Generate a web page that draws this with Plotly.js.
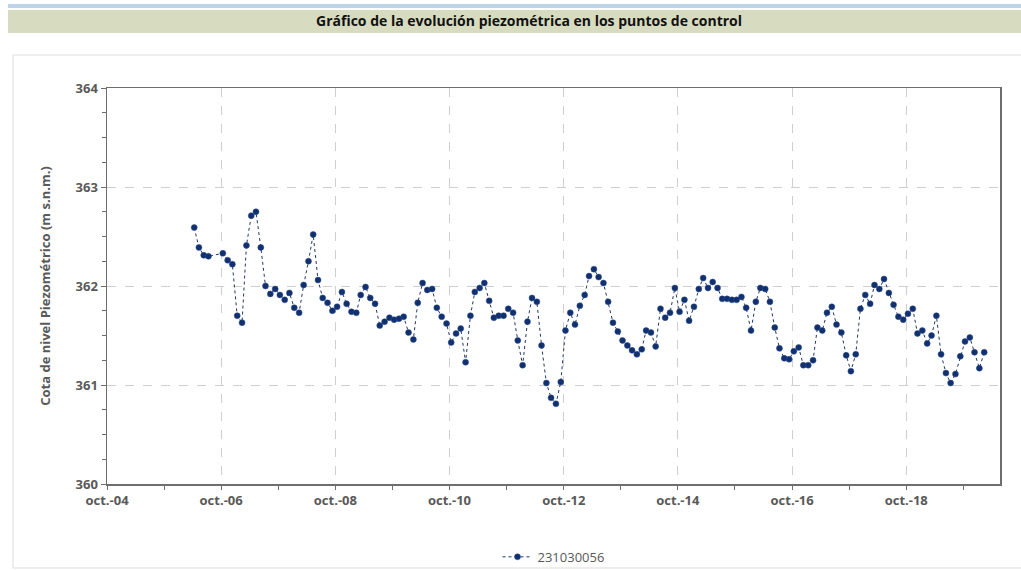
<!DOCTYPE html>
<html>
<head>
<meta charset="utf-8">
<script src="https://cdn.plot.ly/plotly-3.0.1.min.js"></script>
<style>
  html, body { margin: 0; padding: 0; background: #ffffff; overflow: hidden; }
  #chart { width: 1021px; height: 570px; }
</style>
</head>
<body>
<div id="chart"></div>
<script>
// ---- Data ----
const chartTitle = "Gráfico de la evolución piezométrica en los puntos de control";
const yAxisTitle = "Cota de nivel Piezométrico (m s.n.m.)";
const seriesName = "231030056";

const dates = [
  "2006-04-12","2006-05-12","2006-06-12","2006-07-12","2006-10-12","2006-11-12","2006-12-12",
  "2007-01-12","2007-02-12","2007-03-12","2007-04-12","2007-05-12","2007-06-12","2007-07-12","2007-08-12","2007-09-12","2007-10-12","2007-11-12","2007-12-12",
  "2008-01-12","2008-02-12","2008-03-12","2008-04-12","2008-05-12","2008-06-12","2008-07-12","2008-08-12","2008-09-12","2008-10-12","2008-11-12","2008-12-12",
  "2009-01-12","2009-02-12","2009-03-12","2009-04-12","2009-05-12","2009-06-12","2009-07-12","2009-08-12","2009-09-12","2009-10-12","2009-11-12","2009-12-12",
  "2010-01-12","2010-02-12","2010-03-12","2010-04-12","2010-05-12","2010-06-12","2010-07-12","2010-08-12","2010-09-12","2010-10-12","2010-11-12","2010-12-12",
  "2011-01-12","2011-02-12","2011-03-12","2011-04-12","2011-05-12","2011-06-12","2011-07-12","2011-08-12","2011-09-12","2011-10-12","2011-11-12","2011-12-12",
  "2012-01-12","2012-02-12","2012-03-12","2012-04-12","2012-05-12","2012-06-12","2012-07-12","2012-08-12","2012-09-12","2012-10-12","2012-11-12","2012-12-12",
  "2013-01-12","2013-02-12","2013-03-12","2013-04-12","2013-05-12","2013-06-12","2013-07-12","2013-08-12","2013-09-12","2013-10-12","2013-11-12","2013-12-12",
  "2014-01-12","2014-02-12","2014-03-12","2014-04-12","2014-05-12","2014-06-12","2014-07-12","2014-08-12","2014-09-12","2014-10-12","2014-11-12","2014-12-12",
  "2015-01-12","2015-02-12","2015-03-12","2015-04-12","2015-05-12","2015-06-12","2015-07-12","2015-08-12","2015-09-12","2015-10-12","2015-11-12","2015-12-12",
  "2016-01-12","2016-02-12","2016-03-12","2016-04-12","2016-05-12","2016-06-12","2016-07-12","2016-08-12","2016-09-12","2016-10-12","2016-11-12","2016-12-12",
  "2017-01-12","2017-02-12","2017-03-12","2017-04-12","2017-05-12","2017-06-12","2017-07-12","2017-08-12","2017-09-12","2017-10-12","2017-11-12","2017-12-12",
  "2018-01-12","2018-02-12","2018-03-12","2018-04-12","2018-05-12","2018-06-12","2018-07-12","2018-08-12","2018-09-12","2018-10-12","2018-11-12","2018-12-12",
  "2019-01-12","2019-02-12","2019-03-12","2019-04-12","2019-05-12","2019-06-12","2019-07-12","2019-08-12","2019-09-12","2019-10-12","2019-11-12","2019-12-12",
  "2020-01-12","2020-02-12"
];

const levels = [
  362.59,362.39,362.31,362.30,362.33,362.26,362.22,
  361.70,361.63,362.41,362.71,362.75,362.39,362.00,361.92,361.97,361.91,361.86,361.93,
  361.78,361.73,362.01,362.25,362.52,362.06,361.88,361.83,361.75,361.79,361.94,361.82,
  361.74,361.73,361.91,361.99,361.88,361.82,361.60,361.64,361.68,361.66,361.67,361.69,
  361.53,361.46,361.83,362.03,361.96,361.97,361.78,361.69,361.62,361.43,361.52,361.57,
  361.23,361.70,361.94,361.98,362.03,361.85,361.68,361.70,361.70,361.77,361.73,361.45,
  361.20,361.64,361.88,361.84,361.40,361.02,360.87,360.81,361.03,361.55,361.73,361.61,
  361.80,361.91,362.10,362.17,362.09,362.03,361.84,361.63,361.54,361.45,361.40,361.35,
  361.31,361.36,361.55,361.53,361.39,361.77,361.68,361.73,361.98,361.74,361.86,361.65,
  361.79,361.97,362.08,361.98,362.04,361.98,361.87,361.87,361.86,361.86,361.89,361.78,
  361.55,361.84,361.98,361.97,361.84,361.58,361.37,361.27,361.26,361.34,361.38,361.20,
  361.20,361.25,361.58,361.55,361.73,361.79,361.61,361.53,361.30,361.14,361.31,361.77,
  361.91,361.82,362.01,361.97,362.07,361.93,361.81,361.69,361.66,361.72,361.77,361.52,
  361.55,361.42,361.50,361.70,361.31,361.12,361.02,361.11,361.29,361.44,361.48,361.33,
  361.17,361.33
];

const xTickVals  = ["2004-10-01","2006-10-01","2008-10-01","2010-10-01","2012-10-01","2014-10-01","2016-10-01","2018-10-01"];
const xTickText  = ["oct.-04","oct.-06","oct.-08","oct.-10","oct.-12","oct.-14","oct.-16","oct.-18"];
const xMinorVals = ["2005-10-01","2007-10-01","2009-10-01","2011-10-01","2013-10-01","2015-10-01","2017-10-01","2019-10-01"];
const xRange = ["2004-10-01","2020-05-23"];
const yRange = [360, 364];

// ---- Chart ----
const FONT = "Open Sans, Noto Sans, sans-serif";
const GREY = "#595959";
const AXIS = "#6e6e6e";

const trace = {
  type: "scatter",
  mode: "lines+markers",
  name: seriesName,
  x: dates,
  y: levels,
  line: { color: "#1f3864", width: 1, dash: "dot" },
  marker: { color: "#12306c", size: 6, line: { color: "#2a4f9a", width: 0.5 } },
  hoverinfo: "x+y"
};

const layout = {
  width: 1021,
  height: 570,
  margin: { l: 107, r: 21, t: 88, b: 86, autoexpand: false },
  paper_bgcolor: "#ffffff",
  plot_bgcolor: "#ffffff",
  font: { family: FONT, color: GREY, size: 12 },
  showlegend: true,
  legend: {
    orientation: "h",
    x: 0.5, xanchor: "center",
    y: -0.184, yanchor: "middle",
    font: { family: FONT, size: 13, color: GREY },
    bgcolor: "rgba(0,0,0,0)"
  },
  xaxis: {
    type: "date",
    range: xRange,
    tickmode: "array",
    tickvals: xTickVals,
    ticktext: xTickText,
    tickfont: { family: FONT, size: 13, color: GREY, weight: "bold" },
    ticks: "outside", ticklen: 4, tickcolor: AXIS, tickwidth: 1,
    showgrid: true, gridcolor: "#cfcfcf", griddash: "dash", gridwidth: 1,
    minor: { tickmode: "array", tickvals: xMinorVals, ticks: "outside", ticklen: 4, tickcolor: AXIS, showgrid: false },
    showline: true, linecolor: AXIS, linewidth: 1.5, mirror: true,
    zeroline: false,
    automargin: false,
    fixedrange: true
  },
  yaxis: {
    range: yRange,
    dtick: 1,
    tick0: 360,
    tickfont: { family: FONT, size: 13, color: GREY, weight: "bold" },
    ticks: "outside", ticklen: 5, tickcolor: AXIS, tickwidth: 1,
    showgrid: true, gridcolor: "#cfcfcf", griddash: "dash", gridwidth: 1,
    minor: { dtick: 0.25, ticks: "outside", ticklen: 4, tickcolor: AXIS, showgrid: false },
    showline: true, linecolor: AXIS, linewidth: 1.5, mirror: true,
    zeroline: false,
    automargin: false,
    title: { text: yAxisTitle, font: { family: FONT, size: 13, color: GREY, weight: "bold" }, standoff: 22 },
    fixedrange: true
  },
  shapes: [
    // outer chart frame
    { type: "rect", xref: "paper", yref: "paper", x0: -0.1053, x1: 1.03, y0: -0.2121, y1: 1.0833,
      line: { color: "#dcdcdc", width: 1 }, fillcolor: "rgba(0,0,0,0)", layer: "below" },
    // thin light-blue line at the very top
    { type: "rect", xref: "paper", yref: "paper", x0: -0.1109, x1: 1.03, y0: 1.2020, y1: 1.2121,
      line: { width: 0 }, fillcolor: "#bcd5ea", layer: "below" },
    // olive header banner
    { type: "rect", xref: "paper", yref: "paper", x0: -0.1109, x1: 1.03, y0: 1.1389, y1: 1.1970,
      line: { width: 0 }, fillcolor: "#d7dbbf", layer: "below" }
  ],
  annotations: [
    { text: chartTitle, xref: "paper", yref: "paper", x: 0.4726, y: 1.1692,
      xanchor: "center", yanchor: "middle", showarrow: false,
      font: { family: FONT, size: 14, color: "#111111", weight: "bold" } }
  ]
};

Plotly.newPlot("chart", [trace], layout, { displayModeBar: false, staticPlot: true });
</script>
</body>
</html>
